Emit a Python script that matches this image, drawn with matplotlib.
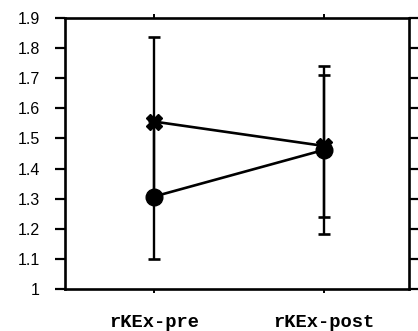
import matplotlib
matplotlib.use("Agg")
import matplotlib.pyplot as plt
from matplotlib.transforms import ScaledTranslation

categories = ["rKEx-pre", "rKEx-post"]

# series drawn with cross markers
cross_mean = [1.556, 1.475]
cross_err_low = [0.25, 0.235]
cross_err_high = [0.28, 0.235]

# series drawn with filled circles
circle_mean = [1.307, 1.462]
circle_err_low = [0.208, 0.278]
circle_err_high = [0.25, 0.278]

yticks = [1, 1.1, 1.2, 1.3, 1.4, 1.5, 1.6, 1.7, 1.8, 1.9]
ytick_labels = ["1", "1.1", "1.2", "1.3", "1.4", "1.5", "1.6", "1.7", "1.8", "1.9"]

fig = plt.figure(figsize=(4.18, 3.31), dpi=100)
ax = fig.add_axes([0.1555, 0.127, 0.823, 0.8186])

x = list(range(len(categories)))

ax.errorbar(x, circle_mean, yerr=[circle_err_low, circle_err_high], color="black",
            marker="o", markersize=12, linewidth=1.9, elinewidth=1.7,
            capsize=4.5, capthick=1.9, zorder=3)
ax.errorbar(x, cross_mean, yerr=[cross_err_low, cross_err_high], color="black",
            marker="X", markersize=11, linewidth=1.9, elinewidth=1.7,
            capsize=4.5, capthick=1.9, zorder=4)

ax.set_xlim(-0.524, 1.5)
ax.set_ylim(1, 1.9)
ax.set_yticks(yticks)
ax.set_yticklabels(ytick_labels, fontfamily="Liberation Sans", fontsize=11.5)
ax.set_xticks(x)
ax.set_xticklabels(categories, fontfamily="Liberation Mono", fontsize=13.5,
                   fontweight="bold")

# labels sit a little left of their ticks in the reference
shift = ScaledTranslation(-5 / 100, 0, fig.dpi_scale_trans)
for lab in ax.get_xticklabels():
    lab.set_transform(lab.get_transform() + shift)

for s in ax.spines.values():
    s.set_linewidth(1.9)

ax.tick_params(axis="y", which="both", direction="out", length=7, width=1.6,
               right=True, pad=11)
ax.tick_params(axis="x", direction="out", length=3, width=1.4, top=True, pad=15)

fig.savefig("out.png", dpi=100)
